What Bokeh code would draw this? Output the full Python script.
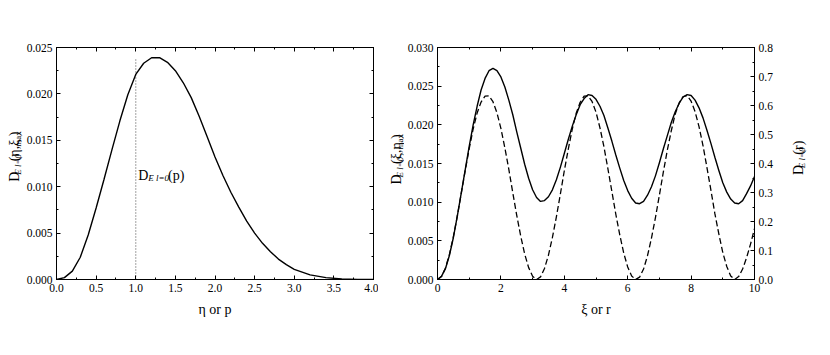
import math
from bokeh.plotting import figure
from bokeh.layouts import row
from bokeh.models import (Range1d, LinearAxis, SingleIntervalTicker, NumeralTickFormatter,
                          CustomJSTickFormatter, Label)
from bokeh.embed import file_html
from bokeh.resources import INLINE

FONT = "Liberation Serif"

# ---------------- data ----------------
eta = [0.0, 0.1, 0.2, 0.3, 0.4, 0.5, 0.6, 0.7, 0.8, 0.9, 1.0, 1.1, 1.2, 1.3, 1.4, 1.5,
       1.6, 1.7, 1.8, 1.9, 2.0, 2.1, 2.2, 2.3, 2.4, 2.5, 2.6, 2.7, 2.8, 2.9, 3.0,
       3.2, 3.4, 3.6, 3.8, 4.0]
d_eta = [0.0, 0.0002, 0.0009, 0.0024, 0.0048, 0.0077, 0.0108, 0.0140, 0.0171, 0.0199,
         0.0221, 0.0233, 0.0239, 0.0239, 0.0234, 0.0225, 0.0212, 0.0196, 0.0176, 0.0154,
         0.0132, 0.0112, 0.0094, 0.0078, 0.0063, 0.0050, 0.0039, 0.0030, 0.0022, 0.0016,
         0.0011, 0.0005, 0.0002, 0.00006, 0.00001, 0.0]

p_marker = [1.0]
p_marker_top = [0.0239]

xi = [i * 0.125 for i in range(81)]
d_xi = [0.0, 0.0004, 0.0014, 0.0031, 0.0054, 0.0082, 0.0112, 0.0142, 0.0172, 0.0200,
        0.0224, 0.0245, 0.0260, 0.0270, 0.0273, 0.0270, 0.0262, 0.0249, 0.0232, 0.0213,
        0.0191, 0.0170, 0.0149, 0.0131, 0.0116, 0.0106, 0.0101, 0.0102, 0.0107, 0.0116,
        0.0129, 0.0145, 0.0163, 0.0181, 0.0198, 0.0213, 0.0226, 0.0234, 0.0239, 0.0238,
        0.0233, 0.0224, 0.0212, 0.0196, 0.0179, 0.0161, 0.0144, 0.0128, 0.0115, 0.0105,
        0.0099, 0.0098, 0.0101, 0.0109, 0.0120, 0.0134, 0.0151, 0.0169, 0.0186, 0.0203,
        0.0217, 0.0228, 0.0236, 0.0239, 0.0238, 0.0232, 0.0222, 0.0209, 0.0193, 0.0176,
        0.0158, 0.0141, 0.0125, 0.0113, 0.0104, 0.0099, 0.0098, 0.0102, 0.0111, 0.0121,
        0.0133]

r = [i * 0.125 for i in range(81)]
d_r = [0.0, 0.010, 0.039, 0.086, 0.147, 0.219, 0.297, 0.376, 0.451, 0.519,
       0.574, 0.612, 0.632, 0.633, 0.613, 0.575, 0.521, 0.454, 0.380, 0.299,
       0.221, 0.150, 0.088, 0.041, 0.011, 0.000, 0.009, 0.038, 0.084, 0.145,
       0.216, 0.294, 0.375, 0.449, 0.518, 0.573, 0.611, 0.632, 0.633, 0.614,
       0.577, 0.523, 0.458, 0.382, 0.304, 0.225, 0.154, 0.091, 0.043, 0.012,
       0.000, 0.008, 0.036, 0.082, 0.143, 0.213, 0.291, 0.371, 0.446, 0.513,
       0.571, 0.609, 0.631, 0.634, 0.615, 0.579, 0.527, 0.462, 0.386, 0.308,
       0.227, 0.157, 0.093, 0.045, 0.012, 0.000, 0.010, 0.036, 0.075, 0.122,
       0.175]

# ---------------- helpers ----------------
CW = {'D': .722, 'E': .611, ' ': .25, 'l': .278, '=': .564, '0': .5, '(': .333, ')': .333,
      'η': .5, ',': .25, 'ξ': .44, 'm': .778, 'a': .444, 'x': .5, 'p': .5, 'r': .333}


def tw(text, size):
    return sum(CW.get(c, .5) for c in text) * size


BIG, SUB = 14, 9
H = 340


def pieces(args):
    return [("D", BIG, "normal", 0), ("E l=0", SUB, "italic", 3)] + args


def label_fig(w, parts, base_x, center_y):
    """Narrow figure whose whole canvas is its frame, holding a vertical label."""
    f = figure(width=w, height=H, output_backend="svg", toolbar_location=None,
               x_range=Range1d(0, w), y_range=Range1d(0, H), min_border=0,
               x_axis_type=None, y_axis_type=None)
    f.xgrid.grid_line_color = None
    f.ygrid.grid_line_color = None
    f.outline_line_color = None
    f.background_fill_color = "white"
    f.border_fill_color = "white"
    total = sum(tw(t, s) for t, s, _, _ in parts)
    y = center_y - total / 2
    for t, s, st, dx in parts:
        f.add_layout(Label(x=base_x + dx, y=y, text=t,
                           angle=math.pi / 2, text_font=FONT, text_font_size=f"{s}px",
                           text_font_style=st, text_color="black",
                           text_baseline="alphabetic", text_align="left"))
        y += tw(t, s)
    return f


def hlabel(p, parts, x, y):
    off = 0
    for t, s, st, dy in parts:
        p.add_layout(Label(x=x, y=y, x_offset=off, y_offset=-dy, text=t,
                           text_font=FONT, text_font_size=f"{s}px",
                           text_font_style=st, text_color="black",
                           text_baseline="alphabetic", text_align="left"))
        off += tw(t, s)


def style_axis(ax, fmt=None, labels=True):
    ax.major_tick_in = 4
    ax.major_tick_out = 0
    ax.minor_tick_in = 2
    ax.minor_tick_out = 0
    ax.axis_line_color = "black"
    ax.major_tick_line_color = "black"
    ax.minor_tick_line_color = "black"
    ax.major_label_text_font = FONT
    ax.major_label_text_font_size = "11.5px"
    ax.major_label_text_color = "black"
    ax.major_label_standoff = 4
    ax.axis_label_text_font = FONT
    ax.axis_label_text_font_size = "14px"
    ax.axis_label_text_font_style = "normal"
    ax.axis_label_text_color = "black"
    ax.axis_label_standoff = 7
    if labels:
        if fmt:
            ax.formatter = NumeralTickFormatter(format=fmt)
    else:
        ax.formatter = CustomJSTickFormatter(code="return ''")
        ax.major_label_standoff = 0


def base_fig(w, bl, br, bt, bb, xr, yr):
    p = figure(width=w, height=H, output_backend="svg", toolbar_location=None,
               x_range=xr, y_range=yr, min_border_left=bl, min_border_right=br,
               min_border_top=bt, min_border_bottom=bb)
    p.xgrid.grid_line_color = None
    p.ygrid.grid_line_color = None
    p.outline_line_color = "black"
    p.outline_line_width = 1
    p.background_fill_color = "white"
    p.border_fill_color = "white"
    return p


# ---------------- left figure ----------------
p1 = base_fig(32 + 318 + 5, 32, 5, 43, H - 43 - 236, Range1d(0, 4), Range1d(0, 0.025))
p1.xaxis.ticker = SingleIntervalTicker(interval=0.5, num_minor_ticks=2)
p1.yaxis.ticker = SingleIntervalTicker(interval=0.005, num_minor_ticks=2)
style_axis(p1.xaxis[0], "0.0")
style_axis(p1.yaxis[0], "0.000")
p1.xaxis[0].axis_label = "η or p"
top1 = LinearAxis(ticker=SingleIntervalTicker(interval=0.5, num_minor_ticks=2))
style_axis(top1, labels=False)
p1.add_layout(top1, "above")
right1 = LinearAxis(ticker=SingleIntervalTicker(interval=0.005, num_minor_ticks=2))
style_axis(right1, labels=False)
p1.add_layout(right1, "right")

p1.segment(x0=p_marker, y0=[0.0], x1=p_marker, y1=p_marker_top, line_color="#666666",
           line_width=1.2, line_dash="1 2")
p1.line(eta, d_eta, line_color="black", line_width=1.4)

hlabel(p1, [("D", BIG, "normal", 0), ("E l=0", SUB, "italic", 3), ("(p)", BIG, "normal", 0)],
       1.03, 0.01123)

# ---------------- right figure ----------------
p2 = base_fig(32 + 318 + 28, 32, 28, 47, H - 47 - 237, Range1d(0, 10), Range1d(0, 0.030))
p2.extra_y_ranges = {"r": Range1d(0, 0.8)}
p2.xaxis.ticker = SingleIntervalTicker(interval=2, num_minor_ticks=2)
p2.yaxis.ticker = SingleIntervalTicker(interval=0.005, num_minor_ticks=2)
style_axis(p2.xaxis[0], "0")
style_axis(p2.yaxis[0], "0.000")
p2.xaxis[0].axis_label = "ξ or r"
top2 = LinearAxis(ticker=SingleIntervalTicker(interval=2, num_minor_ticks=2))
style_axis(top2, labels=False)
p2.add_layout(top2, "above")
right2 = LinearAxis(y_range_name="r", ticker=SingleIntervalTicker(interval=0.1, num_minor_ticks=2))
style_axis(right2, "0.0")
p2.add_layout(right2, "right")

p2.line(r, d_r, y_range_name="r", line_color="black", line_width=1.3, line_dash="6 3")
p2.line(xi, d_xi, line_color="black", line_width=1.4)

# ---------------- vertical axis titles (separate narrow panels) ----------------
lab1 = label_fig(23, pieces([("(η,ξ", BIG, "normal", 0), ("max", SUB, "normal", 3),
                             (")", BIG, "normal", 0)]), 14, H - 161)
lab2 = label_fig(26, pieces([("(ξ,η", BIG, "normal", 0), ("max", SUB, "normal", 3),
                             (")", BIG, "normal", 0)]), 18, H - 165)
lab3 = label_fig(30, pieces([("(r)", BIG, "normal", 0)]), 16, H - 165)

layout = row(lab1, p1, lab2, p2, lab3, spacing=0)
open("out.html", "w").write(file_html(layout, INLINE))
